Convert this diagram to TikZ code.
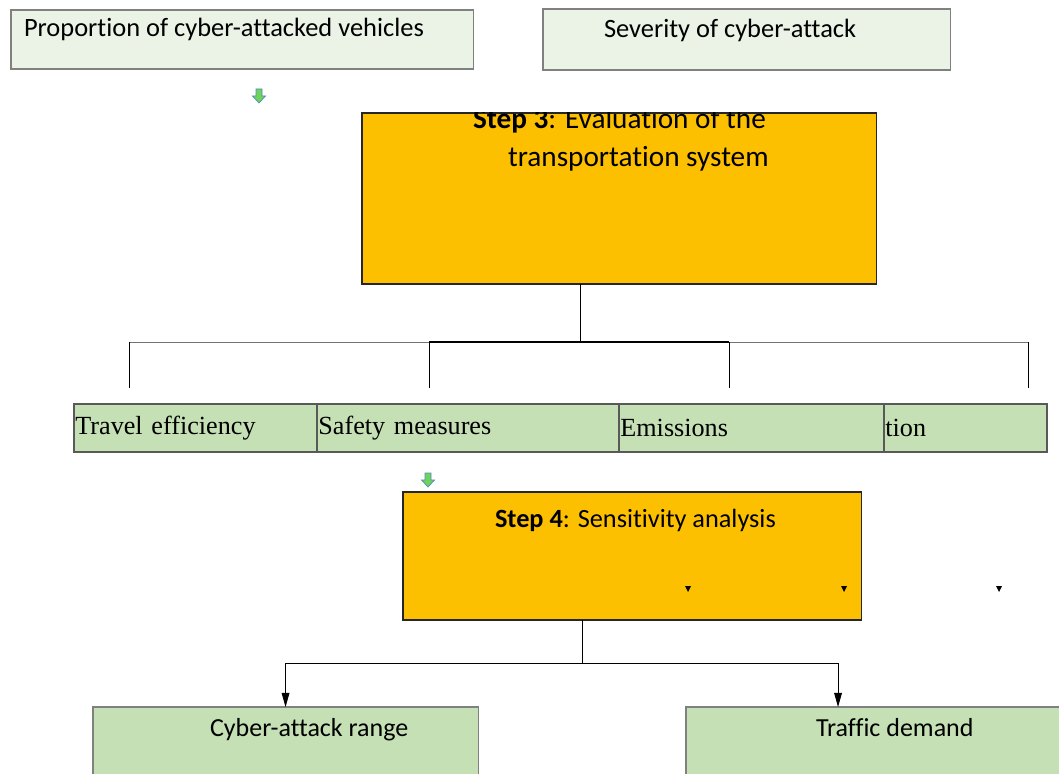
\documentclass[tikz,border=0pt]{standalone}
\usepackage{fontspec}
\setmainfont{Liberation Serif}[Ligatures=NoCommon]
\setsansfont{Carlito}[Ligatures=NoCommon]
\usetikzlibrary{arrows.meta}
\definecolor{palegreen}{HTML}{EBF2E6}
\definecolor{leafgreen}{HTML}{C5E0B4}
\definecolor{amber}{HTML}{FCC000}
\definecolor{arrowgreen}{HTML}{6DD35C}
\definecolor{arrowedge}{HTML}{5A87B8}
\begin{document}
\begin{tikzpicture}[x=0.025cm, y=-0.025cm,
    every node/.style={inner sep=0pt, outer sep=0pt},
    inputbox/.style={draw=gray, line width=0.8pt, fill=palegreen, anchor=north west},
    stepbox/.style={draw=black!85, line width=0.8pt, fill=amber, anchor=north west},
    cellbox/.style={draw=black!65, line width=1.4pt, fill=leafgreen, anchor=north west,
      minimum height=1.2cm, align=left, inner xsep=1pt,
      font=\fontsize{18.6}{22}\selectfont},
    leafbox/.style={draw=gray, line width=0.8pt, fill=leafgreen, anchor=north west},
    sanstext/.style={anchor=base west, font=\sffamily\fontsize{18.8}{22}\selectfont},
    steptext/.style={anchor=base west, font=\sffamily\fontsize{20.8}{24}\selectfont},
    branch/.style={draw=black, line width=0.6pt},
    arrow/.style={branch, -{Triangle[length=10pt, width=5.5pt]}},
    greenarrow/.pic={
      \draw[fill=arrowgreen, draw=arrowedge, line width=0.5pt]
        (-3,0) -- (3,0) -- (3,7) -- (6.5,7) -- (0,14) -- (-6.5,7) -- (-3,7) -- cycle;
    }]
  \useasboundingbox (0,0) rectangle (1059,774);
  \clip (0,0) rectangle (1059,774);

  % inputs
  \node[inputbox, minimum width=11.55cm, minimum height=1.475cm] (prop) at (11,10) {};
  \node[sanstext] (propText) at (24,37) {Proportion of cyber-attacked vehicles};
  \node[inputbox, minimum width=10.175cm, minimum height=1.525cm] (sev) at (543,9) {};
  \node[sanstext] (sevText) at (604,38) {Severity of cyber-attack};
  \pic at (259,89) {greenarrow};

  % step 3
  \node[stepbox, minimum width=12.85cm, minimum height=4.275cm] (s3) at (362,113) {};
  \begin{scope}
    \clip (s3.north west) rectangle (s3.south east);
    \node[steptext] (s3Title) at (473,129) {\textbf{Step 3}: Evaluation of the};
    \node[steptext] (s3Line) at (508,167) {transportation system};
  \end{scope}

  \coordinate (fork3) at (580,342);
  \foreach \x/\n in {129/m1, 429/m2, 729/m3, 1028/m4}
    \coordinate (\n) at (\x,388);
  \draw[branch] (s3.south -| fork3) -- (fork3);
  \draw[branch, draw=black!55] (m1 |- fork3) -- (m4 |- fork3);
  \draw[branch, line width=1pt] (m2 |- fork3) -- (m3 |- fork3);
  \foreach \n in {m1, m2, m3, m4}
    \draw[branch] (\n |- fork3) -- (\n);

  % measures
  \node[cellbox, minimum width=6.075cm, text width=6.025cm] (travel) at (74,404) {Travel efficiency};
  \node[cellbox, minimum width=7.55cm, text width=7.5cm] (safety) at (317,404) {Safety measures};
  \node[cellbox, minimum width=6.625cm, text width=6.575cm] (emission) at (619,404) {Emissions};
  \node[cellbox, minimum width=4.05cm, text width=4cm] (fuel) at (884,404) {tion};
  \pic at (428,473) {greenarrow};

  % step 4
  \node[stepbox, minimum width=11.45cm, minimum height=3.2cm] (s4) at (403,492) {};
  \node[steptext, font=\sffamily\fontsize{18.7}{22}\selectfont] (s4Title) at (495,527) {\textbf{Step 4}: Sensitivity analysis};
  \foreach \x in {688, 844, 999}
    \fill (\x-3,586) -- (\x+3,586) -- (\x,592) -- cycle;

  % sensitivity inputs
  \node[leafbox, minimum width=9.625cm, minimum height=3cm] (range) at (93,707) {};
  \node[sanstext, font=\sffamily\fontsize{18.5}{22}\selectfont] (rangeText) at (210,736) {Cyber-attack range};
  \node[leafbox, minimum width=10cm, minimum height=3cm] (demand) at (686,707) {};
  \node[sanstext, font=\sffamily\fontsize{18.5}{22}\selectfont] (demandText) at (816,736) {Traffic demand};

  \coordinate (fork4) at (582,663);
  \draw[arrow] (s4.south -| fork4) -- (fork4) -| (range.north);
  \draw[arrow] (fork4) -| ([xshift=3.8cm]demand.north west);
\end{tikzpicture}
\end{document}
